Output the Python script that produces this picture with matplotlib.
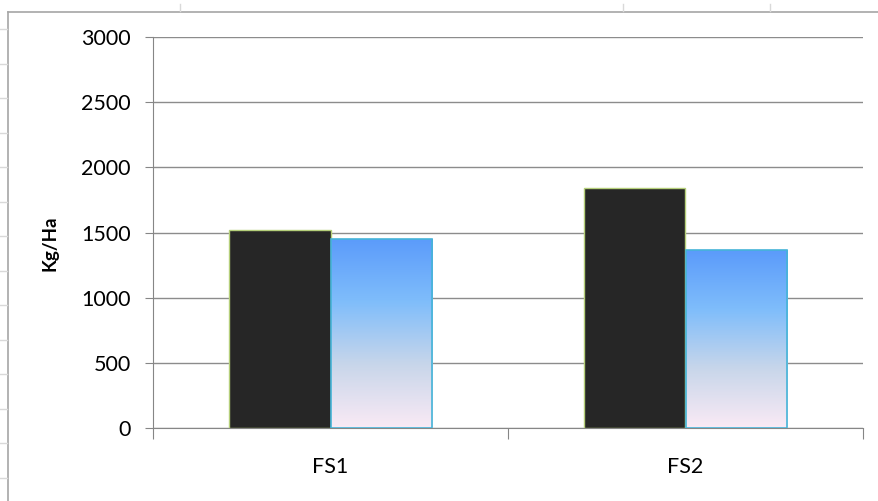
import numpy as np
import matplotlib.pyplot as plt
from matplotlib.colors import LinearSegmentedColormap
from matplotlib.lines import Line2D

categories = ["FS1", "FS2"]
series_dark = [1520, 1842]
series_blue = [1452, 1365]
y_ticks = [0, 500, 1000, 1500, 2000, 2500, 3000]

plt.rcParams['font.family'] = ['Lato', 'DejaVu Sans']

fig = plt.figure(figsize=(8.79, 5.01), dpi=100)
ax = fig.add_axes([153 / 879, 1 - 428 / 501, 710 / 879, 391 / 501])

# spreadsheet frame around the chart
W, H = 879, 501
fig.add_artist(Line2D([8 / W, 8 / W], [0, 1 - 12 / H], transform=fig.transFigure, color="#a6a6a6", lw=1.2))
fig.add_artist(Line2D([8 / W, 1], [1 - 12 / H, 1 - 12 / H], transform=fig.transFigure, color="#a6a6a6", lw=1.2))
for yy in np.arange(29, 501, 34.5):
    fig.add_artist(Line2D([0, 7 / W], [1 - yy / H, 1 - yy / H], transform=fig.transFigure, color="#d9d9d9", lw=1))
for xx in [180, 623, 770]:
    fig.add_artist(Line2D([xx / W, xx / W], [1 - 4 / H, 1 - 11 / H], transform=fig.transFigure, color="#d9d9d9", lw=1))

x = np.arange(len(categories))
w = 1 / 3.5
bars_dark = ax.bar(x - w / 2, series_dark, w, color="#262626", edgecolor="#b5cf7a", linewidth=1, zorder=3)
bars_blue = ax.bar(x + w / 2, series_blue, w, color="none", edgecolor="#45b4d8", linewidth=1.2, zorder=4)

cmap = LinearSegmentedColormap.from_list("g", ["#faeaf5", "#c8d6ea", "#7fbdfb", "#5b9bfa"])
grad = np.linspace(0, 1, 256).reshape(-1, 1)
for b in bars_blue:
    x0, y0 = b.get_x(), b.get_y()
    im = ax.imshow(grad, cmap=cmap, origin="lower", aspect="auto",
                   extent=[x0, x0 + b.get_width(), y0, y0 + b.get_height()], zorder=3)
    im.set_clip_path(b)

ax.set_xlim(-0.5, 1.5)
ax.set_ylim(0, 3000)
ax.set_yticks(y_ticks)
ax.set_yticklabels([str(v) for v in y_ticks], fontsize=15.5)
ax.set_xticks([-0.5, 0.5, 1.5])
ax.set_xticklabels([])
ax.set_xticks(x, minor=True)
ax.set_xticklabels(categories, minor=True, fontsize=15.5)
ax.tick_params(axis="x", which="minor", length=0, pad=21)
ax.tick_params(axis="x", which="major", length=8, color="#868686")
ax.tick_params(axis="y", length=6, color="#868686", pad=10)
ax.grid(axis="y", color="#8c8c8c", linewidth=1, zorder=0)
for s in ["top", "right"]:
    ax.spines[s].set_visible(False)
for s in ["left", "bottom"]:
    ax.spines[s].set_color("#868686")
ax.set_ylabel("Kg/Ha", fontsize=13.5, fontweight="bold")
ax.yaxis.set_label_coords(-0.133, 0.473)

plt.savefig("out.png", dpi=100)
